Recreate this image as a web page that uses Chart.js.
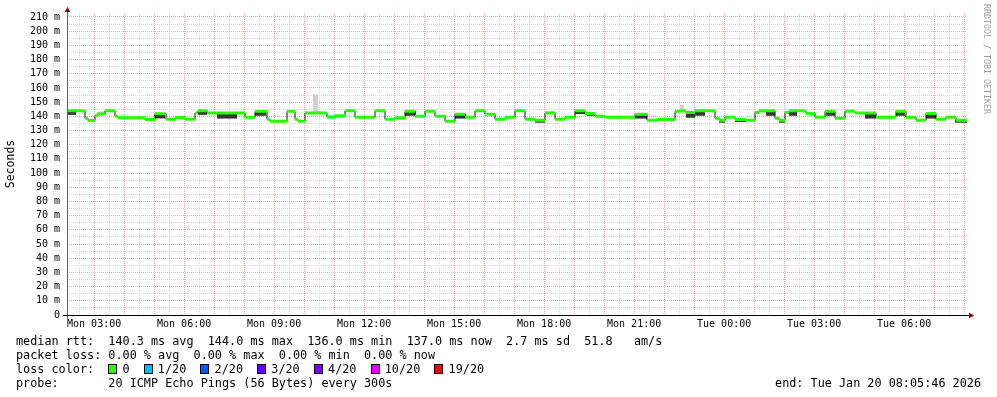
<!DOCTYPE html>
<html>
<head>
<meta charset="utf-8">
<script src="https://cdn.jsdelivr.net/npm/chart.js@4.4.1/dist/chart.umd.min.js"></script>
<style>
  html, body { margin: 0; padding: 0; background: #fff; }
  #wrap { position: relative; width: 997px; height: 397px; overflow: hidden; background: #fff; }
  #graph { position: absolute; left: 0; top: 0; }
  .leg { position: absolute; left: 16px; font: 11.8px "DejaVu Sans Mono", monospace; color: #000; white-space: pre; line-height: 14px; }
  .sw { display: inline-block; width: 9px; height: 10px; border: 1px solid #000; box-sizing: border-box; vertical-align: -1px; margin-right: -2px; }
  #endtime { left: auto; right: 16px; }
  #vert { position: absolute; left: 982px; top: 4px; writing-mode: vertical-rl; font: 8.3px "DejaVu Sans Mono", monospace; color: #a0a0a0; }
</style>
</head>
<body>
<div id="wrap">
  <canvas id="graph" width="997" height="397"></canvas>
  <div class="leg" style="top:334px">median rtt:  140.3 ms avg  144.0 ms max  136.0 ms min  137.0 ms now  2.7 ms sd  51.8   am/s</div>
  <div class="leg" style="top:348px">packet loss: 0.00 % avg  0.00 % max  0.00 % min  0.00 % now</div>
  <div class="leg" id="losscolor" style="top:362px"></div>
  <div class="leg" style="top:376px">probe:       20 ICMP Echo Pings (56 Bytes) every 300s</div>
  <div class="leg" id="endtime" style="top:376px">end: Tue Jan 20 08:05:46 2026</div>
  <div id="vert">RRDTOOL / TOBI OETIKER</div>
</div>
<script>
// time axis: minutes since graph start (Mon 02:05:46), 30 hours shown
const startClock = 2 * 60 + 5 + 46 / 60;
const spanMinutes = 1800;
const xTickLabels = ["Mon 03:00", "Mon 06:00", "Mon 09:00", "Mon 12:00", "Mon 15:00",
  "Mon 18:00", "Mon 21:00", "Tue 00:00", "Tue 03:00", "Tue 06:00"];

// median rtt steps (start minute, value in ms)
const times = [0, 36, 42, 56, 60, 76, 96, 102, 156, 176, 198, 216, 236, 256, 262, 280, 356, 376, 400, 406,
  440, 456, 462, 476, 520, 536, 556, 576, 616, 636, 656, 676, 696, 716, 736, 756, 776, 796, 816, 836,
  856, 876, 896, 916, 936, 956, 976, 996, 1016, 1036, 1056, 1076, 1136, 1160, 1180, 1216, 1226, 1238, 1256, 1296,
  1304, 1316, 1336, 1358, 1376, 1384, 1416, 1424, 1436, 1444, 1478, 1496, 1516, 1536, 1556, 1576, 1618, 1658, 1678, 1698,
  1718, 1738, 1758, 1778];
const median = [144, 138.6, 137, 140.4, 141.6, 144, 140, 139, 137.7, 141.8, 137.9, 139.1, 137.9, 142.3, 144, 142.3, 139.3, 143.5, 137.9, 136.5,
  143.5, 137.9, 136.5, 142.3, 139.3, 140.4, 144, 139.3, 144, 137.9, 139, 143.5, 140, 143.5, 140, 136.5, 141.5, 139.3, 144, 141.5,
  137.9, 139.3, 144, 137.9, 137.3, 142.3, 137.9, 139.3, 144, 142, 140, 139.3, 141.5, 137.3, 137.7, 143.5, 144, 142.7, 144, 138.6,
  137.3, 139.3, 137.7, 137.3, 142.7, 144, 138.6, 137.3, 142.7, 144, 142, 139.3, 143.5, 138.6, 143.5, 142.3, 139.3, 143.5, 139.3, 137.3,
  142, 137.9, 139.3, 137.3];

// dense smoke (dark) bands
const smokeFrom = [0, 102, 176, 262, 300, 376, 522, 676, 776, 936, 1016, 1040, 1136, 1238, 1256, 1304, 1336, 1398, 1424, 1444, 1518, 1596, 1658, 1718, 1776];
const smokeTo = [18, 156, 196, 280, 340, 398, 556, 698, 798, 956, 1036, 1056, 1160, 1256, 1276, 1316, 1358, 1416, 1436, 1460, 1536, 1618, 1676, 1738, 1800];
const smokeLow = [141, 138.4, 138.5, 141, 138.4, 140.4, 139.3, 140.4, 138.4, 135.5, 141.6, 140.4, 138.4, 139, 140.4, 135.5, 136, 140.4, 135.5, 140.4, 140.4, 138.4, 140.4, 138.4, 135.5];
const smokeHigh = [144, 139, 141.8, 144, 142.3, 143.5, 140.4, 143.5, 141.5, 137.3, 144, 142, 141.5, 142.7, 144, 137.3, 137.7, 144, 137.3, 144, 143.5, 142.3, 143.5, 142, 137.3];

// sparse smoke (light) outliers
const lightFrom = [62, 476, 492, 956, 1226];
const lightTo = [76, 516, 502, 976, 1234];
const lightLow = [141.6, 142.3, 143, 142.3, 144];
const lightHigh = [143.5, 143.2, 155.5, 143.5, 148];

const lossLabels = ["0", "1/20", "2/20", "3/20", "4/20", "10/20", "19/20"];
const lossColors = ["#26ff00", "#00b8ff", "#0059ff", "#5e00ff", "#7e00ff", "#dd00ff", "#ff0000"];

const mono = "'DejaVu Sans Mono', monospace";
const majorGrid = "rgb(238,168,168)";
const minorGrid = "rgb(214,214,214)";

// legend swatches
const lossBox = document.getElementById("losscolor");
let html = "loss color:  ";
lossLabels.forEach((lbl, i) => {
  html += '<span class="sw" style="background:' + lossColors[i] + '"></span> ' + lbl + (i < lossLabels.length - 1 ? "  " : "");
});
lossBox.innerHTML = html;

// half-hour ticks on the time axis
const xTickValues = [];
for (let m = Math.ceil(startClock / 30) * 30; m - startClock <= spanMinutes; m += 30) {
  xTickValues.push(m - startClock);
}
const clockOf = v => Math.round(v + startClock);

const yTickValues = [];
for (let v = 0; v <= 210; v += 5) yTickValues.push(v);

// build datasets
const datasets = [];

// green horizontal parts of the median, dark risers underneath
const greenPts = [];
const edgePts = [];
times.forEach((t, i) => {
  const next = i < times.length - 1 ? times[i + 1] : spanMinutes;
  greenPts.push({ x: t, y: median[i] }, { x: next, y: median[i] }, { x: next, y: null });
  edgePts.push({ x: t, y: median[i] });
});
edgePts.push({ x: spanMinutes, y: median[median.length - 1] });

datasets.push({
  data: greenPts, borderColor: lossColors[0], borderWidth: 3, pointRadius: 0,
  spanGaps: false, borderCapStyle: "butt", fill: false, order: 0
});
datasets.push({
  data: edgePts, borderColor: "#111", borderWidth: 1, pointRadius: 0,
  stepped: "before", fill: false, order: 1
});
smokeFrom.forEach((f, i) => {
  datasets.push({
    data: [{ x: f, y: smokeHigh[i] }, { x: smokeTo[i], y: smokeHigh[i] }],
    borderWidth: 0, pointRadius: 0, backgroundColor: "#363636",
    fill: { value: smokeLow[i] }, order: 2
  });
});
lightFrom.forEach((f, i) => {
  datasets.push({
    data: [{ x: f, y: lightHigh[i] }, { x: lightTo[i], y: lightHigh[i] }],
    borderWidth: 0, pointRadius: 0, backgroundColor: "#d0d0d0",
    fill: { value: lightLow[i] }, order: 3
  });
});

// axis lines and arrows like rrdtool
const axisArrows = {
  id: "axisArrows",
  afterDraw(chart) {
    const { ctx, chartArea: a } = chart;
    ctx.save();
    ctx.lineWidth = 1;
    ctx.strokeStyle = "#606060";
    ctx.beginPath();
    ctx.moveTo(a.left + 0.5, a.top - 2);
    ctx.lineTo(a.left + 0.5, a.bottom + 4);
    ctx.stroke();
    ctx.strokeStyle = "#000";
    ctx.beginPath();
    ctx.moveTo(a.left - 4, a.bottom + 0.5);
    ctx.lineTo(a.right + 2, a.bottom + 0.5);
    ctx.stroke();
    ctx.fillStyle = "#801010";
    ctx.beginPath();
    ctx.moveTo(a.left + 0.5, a.top - 6);
    ctx.lineTo(a.left - 2.5, a.top - 1);
    ctx.lineTo(a.left + 3.5, a.top - 1);
    ctx.closePath();
    ctx.fill();
    ctx.beginPath();
    ctx.moveTo(a.right + 7, a.bottom + 0.5);
    ctx.lineTo(a.right + 2, a.bottom - 2.5);
    ctx.lineTo(a.right + 2, a.bottom + 3.5);
    ctx.closePath();
    ctx.fill();
    ctx.restore();
  }
};

new Chart(document.getElementById("graph"), {
  type: "line",
  data: { datasets: datasets },
  options: {
    responsive: false,
    animation: false,
    devicePixelRatio: 1,
    layout: { padding: { top: 12, right: 30, left: 0, bottom: 0 } },
    plugins: { legend: { display: false }, tooltip: { enabled: false } },
    elements: { line: { tension: 0 } },
    scales: {
      x: {
        type: "linear",
        min: 0,
        max: spanMinutes,
        afterBuildTicks: scale => { scale.ticks = xTickValues.map(v => ({ value: v })); },
        afterFit: scale => { scale.height = 82; },
        ticks: {
          autoSkip: false, maxRotation: 0, minRotation: 0, padding: 3,
          color: "#000", font: { family: mono, size: 10 },
          callback: v => {
            const c = clockOf(v);
            if (c % 180 !== 0) return "";
            return xTickLabels[c / 180 - 1] || "";
          }
        },
        grid: {
          drawTicks: false,
          lineWidth: 1,
          color: ctx => (clockOf(ctx.tick.value) % 60 === 0 ? majorGrid : minorGrid)
        },
        border: { display: false, dash: [1, 1] }
      },
      y: {
        min: 0,
        max: 212.8,
        afterBuildTicks: scale => { scale.ticks = yTickValues.map(v => ({ value: v })); },
        afterFit: scale => { scale.width = 67; },
        ticks: {
          autoSkip: false, padding: 7, color: "#000", font: { family: mono, size: 10 },
          callback: v => (v % 10 !== 0 ? "" : v === 0 ? "0" : v + " m")
        },
        grid: {
          drawTicks: false,
          lineWidth: 1,
          color: ctx => (ctx.tick.value % 10 === 0 ? majorGrid : minorGrid)
        },
        border: { display: false, dash: [1, 1] },
        title: {
          display: true, text: "Seconds", color: "#000",
          font: { family: mono, size: 11.5 }, padding: { top: 4, bottom: 0 }
        }
      }
    }
  },
  plugins: [axisArrows]
});
</script>
</body>
</html>
